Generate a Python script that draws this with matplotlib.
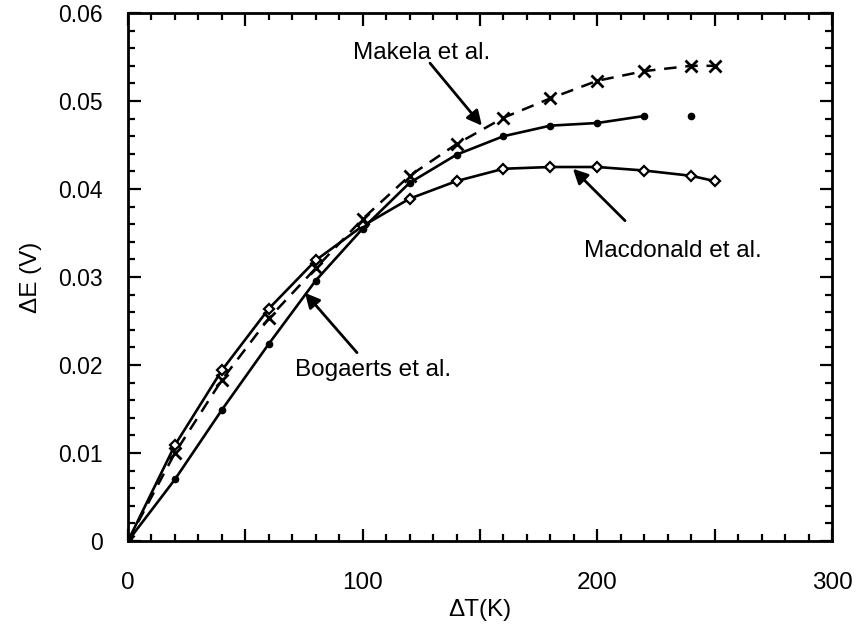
import matplotlib
matplotlib.use("Agg")
import matplotlib.pyplot as plt
from matplotlib.ticker import MultipleLocator, FuncFormatter

plt.rcParams['font.family'] = ['Liberation Sans', 'DejaVu Sans']

# === Data: potential difference vs temperature difference ===
dT = [0, 20, 40, 60, 80, 100, 120, 140, 160, 180, 200, 220, 240, 250]
makela = [0, 0.0100, 0.0183, 0.0253, 0.0310, 0.0366, 0.0415, 0.0451,
          0.0481, 0.0503, 0.0523, 0.0534, 0.0540, 0.0540]
macdonald = [0, 0.0109, 0.0194, 0.0264, 0.0319, 0.0358, 0.0389, 0.0409,
             0.0423, 0.0425, 0.0425, 0.0421, 0.0415, 0.0409]

dT_bog = [0, 20, 40, 60, 80, 100, 120, 140, 160, 180, 200, 220, 240]
bogaerts = [0, 0.0070, 0.0149, 0.0224, 0.0296, 0.0355, 0.0407, 0.0439,
            0.0460, 0.0472, 0.0475, 0.0483, 0.0483]
n_bog_line = 12  # the 240 K point is drawn without a connecting line

fig = plt.figure(figsize=(8.56, 6.31), dpi=100)
ax = fig.add_axes([128 / 856, 1 - 541 / 631, 704 / 856, 528 / 631])

# Makela: dashed with crosses
ax.plot(dT, makela, color='k', lw=1.8, linestyle=(0, (5, 3.5)),
        marker='x', markersize=8, markeredgewidth=2)

# Macdonald: solid with open diamonds
ax.plot(dT, macdonald, color='k', lw=1.9, marker='D', markersize=5.5,
        markerfacecolor='white', markeredgewidth=1.6)

# Bogaerts: solid with small dots
ax.plot(dT_bog[:n_bog_line], bogaerts[:n_bog_line], color='k', lw=1.9)
ax.plot(dT_bog, bogaerts, color='k', linestyle='none', marker='o', markersize=4.5)

# Annotations
arrow = dict(arrowstyle='-|>', color='k', lw=2, mutation_scale=22,
             shrinkA=0, shrinkB=0)
ax.annotate('', xy=(150.8, 0.0472), xytext=(128.7, 0.0543), arrowprops=arrow)
ax.annotate('', xy=(189.6, 0.0423), xytext=(211.8, 0.0364), arrowprops=arrow)
ax.annotate('', xy=(75.4, 0.0282), xytext=(97.6, 0.0214), arrowprops=arrow)

ax.text(125, 0.0554, 'Makela et al.', fontsize=17.5, ha='center', va='center')
ax.text(232, 0.0329, 'Macdonald et al.', fontsize=17.5, ha='center', va='center')
ax.text(104.5, 0.0194, 'Bogaerts et al.', fontsize=17.5, ha='center', va='center')

# Axes
ax.set_xlim(0, 300)
ax.set_ylim(0, 0.06)
ax.xaxis.set_major_locator(MultipleLocator(50))
ax.xaxis.set_minor_locator(MultipleLocator(10))
ax.yaxis.set_major_locator(MultipleLocator(0.01))
ax.yaxis.set_minor_locator(MultipleLocator(0.002))
ax.xaxis.set_major_formatter(FuncFormatter(
    lambda v, p: f'{int(v)}' if round(v) % 100 == 0 else ''))
ax.yaxis.set_major_formatter(FuncFormatter(
    lambda v, p: '0' if abs(v) < 1e-9 else f'{v:.2f}'))

ax.tick_params(which='both', direction='in', top=True, right=True, width=1.6)
ax.tick_params(which='major', length=9)
ax.tick_params(which='minor', length=5)
ax.tick_params(axis='x', which='major', labelsize=17.5, pad=22)
ax.tick_params(axis='y', which='major', labelsize=16.5, pad=18)
for s in ax.spines.values():
    s.set_linewidth(2)

ax.set_xlabel('ΔT(K)', fontsize=17.5, labelpad=4)
ax.set_ylabel('ΔE (V)', fontsize=17.5, labelpad=12)

fig.savefig('out.png', dpi=100)
